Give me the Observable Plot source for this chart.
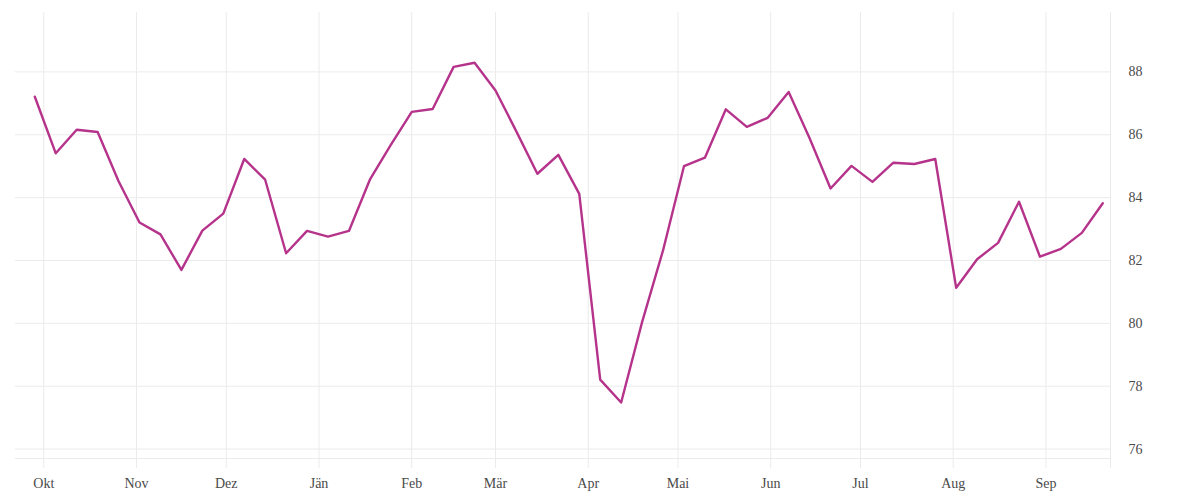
<!DOCTYPE html>
<html><head><meta charset="utf-8">
<script src="https://cdn.jsdelivr.net/npm/d3@7"></script>
<script src="https://cdn.jsdelivr.net/npm/@observablehq/plot@0.6"></script>
<style>html,body{margin:0;padding:0;background:#fff;}</style>
</head><body><div id="chart"></div>
<script>
const dates = [
  "2018-09-28","2018-10-05","2018-10-12","2018-10-19","2018-10-26",
  "2018-11-02","2018-11-09","2018-11-16","2018-11-23","2018-11-30",
  "2018-12-07","2018-12-14","2018-12-21","2018-12-28",
  "2019-01-04","2019-01-11","2019-01-18","2019-01-25",
  "2019-02-01","2019-02-08","2019-02-15","2019-02-22",
  "2019-03-01","2019-03-08","2019-03-15","2019-03-22","2019-03-29",
  "2019-04-05","2019-04-12","2019-04-19","2019-04-26",
  "2019-05-03","2019-05-10","2019-05-17","2019-05-24","2019-05-31",
  "2019-06-07","2019-06-14","2019-06-21","2019-06-28",
  "2019-07-05","2019-07-12","2019-07-19","2019-07-26",
  "2019-08-02","2019-08-09","2019-08-16","2019-08-23","2019-08-30",
  "2019-09-06","2019-09-13","2019-09-20"
];
const values = [
  87.21, 85.41, 86.16, 86.09, 84.52,
  83.21, 82.83, 81.70, 82.95, 83.49,
  85.23, 84.57, 82.23, 82.94,
  82.76, 82.94, 84.57, 85.68,
  86.73, 86.82, 88.16, 88.29,
  87.41, 86.10, 84.76, 85.36, 84.12,
  78.21, 77.48, 80.04, 82.32,
  85.00, 85.27, 86.81, 86.25, 86.54,
  87.36, 85.89, 84.29, 85.01,
  84.50, 85.11, 85.07, 85.23,
  81.13, 82.04, 82.56, 83.87, 82.12,
  82.37, 82.88, 83.82
];
const monthTicks = ["2018-10-01","2018-11-01","2018-12-01","2019-01-01","2019-02-01","2019-03-01",
  "2019-04-01","2019-05-01","2019-06-01","2019-07-01","2019-08-01","2019-09-01"];
const monthLabels = ["Okt","Nov","Dez","Jän","Feb","Mär","Apr","Mai","Jun","Jul","Aug","Sep"];
const yTicks = [76, 78, 80, 82, 84, 86, 88];
const xDomain = ["2018-09-21T13:00:00Z", "2019-09-22T14:00:00Z"];
const yDomain = [75.7, 89.89];

const data = dates.map((d, i) => ({date: new Date(d), value: values[i]}));
const tickDates = monthTicks.map(d => new Date(d));
const xDom = xDomain.map(d => new Date(d));
const labelMap = new Map(tickDates.map((d, i) => [+d, monthLabels[i]]));
const axisTicks = [...tickDates, xDom[1]];

const chart = Plot.plot({
  width: 1200, height: 500,
  marginLeft: 15, marginRight: 90, marginTop: 12, marginBottom: 42,
  style: {fontFamily: "'Liberation Serif', serif", fontSize: "14px", color: "#4a4a4a", background: "#fff"},
  x: {type: "utc", domain: xDom},
  y: {domain: yDomain},
  marks: [
    Plot.gridY(yTicks, {stroke: "#ebebeb", strokeOpacity: 1}),
    Plot.gridX(tickDates, {stroke: "#ebebeb", strokeOpacity: 1}),
    Plot.frame({anchor: "bottom", stroke: "#ebebeb"}),
    Plot.frame({anchor: "right", stroke: "#ebebeb"}),
    Plot.axisX(axisTicks, {tickSize: 10, tickPadding: 10, stroke: "#ebebeb", strokeOpacity: 1, fill: "#4a4a4a",
      tickFormat: d => labelMap.get(+d) ?? "", label: null}),
    Plot.axisY(yTicks, {anchor: "right", tickSize: 0, tickPadding: 18, fill: "#4a4a4a", label: null}),
    Plot.line(data, {x: "date", y: "value", stroke: "#b5338a", strokeWidth: 2.4})
  ]
});
document.getElementById("chart").appendChild(chart);
</script>
</body></html>
